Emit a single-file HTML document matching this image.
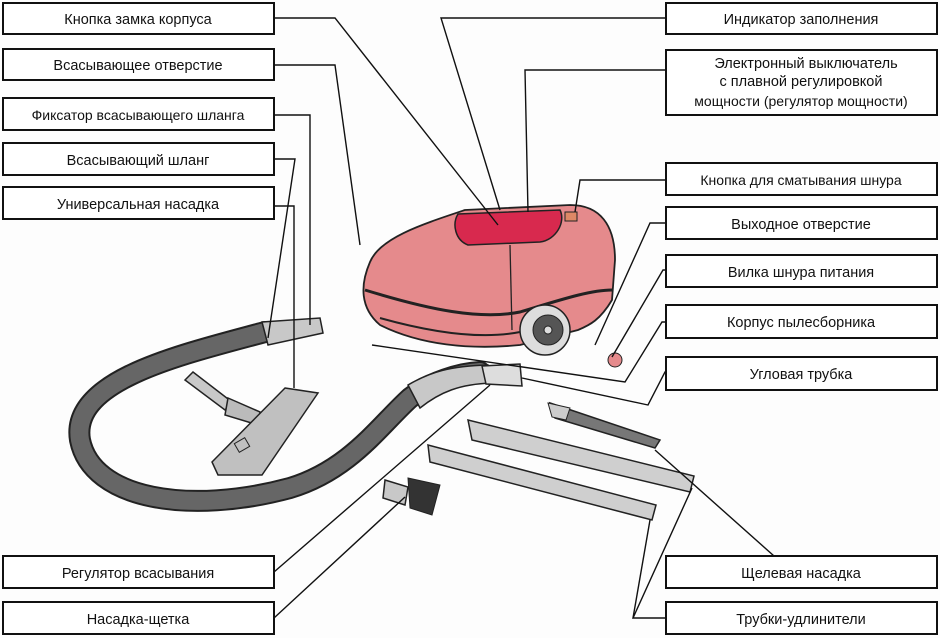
<!DOCTYPE html>
<html><head><meta charset="utf-8"><style>
body{margin:0;background:#fff;width:940px;height:638px;overflow:hidden}
svg{display:block}
text{font-family:"Liberation Sans",sans-serif;font-size:14.5px;fill:#111;text-anchor:middle}
.b{fill:#fff;stroke:#111;stroke-width:2}
.l{fill:none;stroke:#111;stroke-width:1.4}
</style></head><body>
<svg width="940" height="638" viewBox="0 0 940 638">
<rect width="940" height="638" fill="#fdfdfd"/>
<!-- hose -->
<path d="M265,332 C180,355 70,380 80,440 C92,500 190,515 290,488 C350,470 380,425 410,398 C430,382 460,373 480,372" fill="none" stroke="#222" stroke-width="22" stroke-linecap="round"/>
<path d="M265,332 C180,355 70,380 80,440 C92,500 190,515 290,488 C350,470 380,425 410,398 C430,382 460,373 480,372" fill="none" stroke="#666" stroke-width="18" stroke-linecap="round"/>
<path d="M262,322 L320,318 L323,333 L268,345 Z" fill="#c8c8c8" stroke="#222" stroke-width="1.5"/>
<path d="M408,385 C430,372 450,366 488,365 L492,383 C460,384 440,392 420,408 Z" fill="#c8c8c8" stroke="#222" stroke-width="1.5"/>
<path d="M482,366 L520,364 L522,386 L486,384 Z" fill="#ddd" stroke="#222" stroke-width="1.5"/>
<!-- floor nozzle -->
<path d="M185,380 L225,410 L232,402 L193,372 Z" fill="#c8c8c8" stroke="#222" stroke-width="1.5"/>
<path d="M228,398 L260,412 L258,425 L225,415 Z" fill="#bbb" stroke="#222" stroke-width="1.5"/>
<path d="M285,388 L318,393 L262,475 L218,475 L212,462 Z" fill="#c0c0c0" stroke="#222" stroke-width="1.5"/>
<rect x="236" y="440" width="12" height="10" fill="none" stroke="#222" transform="rotate(-30 242 445)"/>
<!-- brush -->
<path d="M385,480 L408,487 L405,505 L383,498 Z" fill="#c8c8c8" stroke="#222" stroke-width="1.5"/>
<path d="M408,478 L440,485 L432,515 L410,508 Z" fill="#333" stroke="#222"/>
<!-- tubes -->
<path d="M468,420 L472,440 L690,492 L694,476 Z" fill="#cfcfcf" stroke="#222" stroke-width="1.5"/>
<path d="M428,445 L430,462 L652,520 L656,505 Z" fill="#cfcfcf" stroke="#222" stroke-width="1.5"/>
<path d="M550,403 L555,418 L655,448 L660,440 Z" fill="#777" stroke="#222" stroke-width="1.5"/>
<path d="M548,403 L570,408 L566,420 L552,417 Z" fill="#ccc" stroke="#222"/>
<!-- vacuum body -->
<path d="M370,262 C380,238 420,225 465,210 L570,205 C600,205 615,225 615,260 L612,300 C600,320 590,325 578,330 L520,345 C470,350 420,345 380,325 C360,308 360,285 370,262 Z" fill="#e58a8c" stroke="#222" stroke-width="1.8"/>
<path d="M458,214 L560,210 C566,222 556,240 540,242 L468,245 C455,240 452,224 458,214 Z" fill="#d8294e" stroke="#222" stroke-width="1.5"/>
<rect x="565" y="212" width="12" height="9" fill="#d86" stroke="#222"/>
<path d="M365,290 C430,310 480,320 520,312 C560,300 590,290 612,290" fill="none" stroke="#222" stroke-width="3"/>
<path d="M380,318 C430,332 480,340 520,332" fill="none" stroke="#222" stroke-width="2"/>
<path d="M510,245 L512,330" fill="none" stroke="#222" stroke-width="1.3"/>
<circle cx="545" cy="330" r="25" fill="#ddd" stroke="#222" stroke-width="1.5"/>
<circle cx="548" cy="330" r="15" fill="#555" stroke="#222"/>
<circle cx="548" cy="330" r="4" fill="#ddd" stroke="#222"/>
<circle cx="615" cy="360" r="7" fill="#e58a8c" stroke="#222"/>
<!-- leader lines -->
<g class="l">
<polyline points="274,18 335,18 498,225"/>
<polyline points="274,65 335,65 360,245"/>
<polyline points="274,115 310,115 310,325"/>
<polyline points="274,159 295,159 268,338"/>
<polyline points="274,206 294,206 294,388"/>
<polyline points="666,18 441,18 500,210"/>
<polyline points="666,70 525,70 528,212"/>
<polyline points="666,180 580,180 575,212"/>
<polyline points="666,223 650,223 595,345"/>
<polyline points="666,270 663,270 612,357"/>
<polyline points="666,322 662,322 625,382 372,345"/>
<polyline points="666,372 665,372 648,405 522,378"/>
<polyline points="274,572 490,385"/>
<polyline points="274,618 405,497"/>
<polyline points="666,572 792,572 655,450"/>
<polyline points="666,618 633,618 692,488"/>
<polyline points="633,618 650,520"/>
</g>
<!-- boxes left -->
<rect class="b" x="3" y="3" width="271" height="31"/><text x="138" y="24">Кнопка замка корпуса</text>
<rect class="b" x="3" y="49" width="271" height="31"/><text x="138" y="70">Всасывающее отверстие</text>
<rect class="b" x="3" y="98" width="271" height="32"/><text x="138" y="120" style="font-size:14px">Фиксатор всасывающего шланга</text>
<rect class="b" x="3" y="143" width="271" height="32"/><text x="138" y="165">Всасывающий шланг</text>
<rect class="b" x="3" y="187" width="271" height="32"/><text x="138" y="209">Универсальная насадка</text>
<rect class="b" x="3" y="556" width="271" height="32"/><text x="138" y="578">Регулятор всасывания</text>
<rect class="b" x="3" y="602" width="271" height="32"/><text x="138" y="624">Насадка-щетка</text>
<!-- boxes right -->
<rect class="b" x="666" y="3" width="271" height="31"/><text x="801" y="24">Индикатор заполнения</text>
<rect class="b" x="666" y="50" width="271" height="65"/>
<text x="806" y="68">Электронный выключатель</text><text x="801" y="86">с плавной регулировкой</text><text x="801" y="106" style="font-size:14px">мощности (регулятор мощности)</text>
<rect class="b" x="666" y="163" width="271" height="32"/><text x="801" y="185" style="font-size:14px">Кнопка для сматывания шнура</text>
<rect class="b" x="666" y="207" width="271" height="32"/><text x="801" y="229">Выходное отверстие</text>
<rect class="b" x="666" y="255" width="271" height="32"/><text x="801" y="277">Вилка шнура питания</text>
<rect class="b" x="666" y="305" width="271" height="33"/><text x="801" y="327">Корпус пылесборника</text>
<rect class="b" x="666" y="357" width="271" height="33"/><text x="801" y="379">Угловая трубка</text>
<rect class="b" x="666" y="556" width="271" height="32"/><text x="801" y="578">Щелевая насадка</text>
<rect class="b" x="666" y="602" width="271" height="32"/><text x="801" y="624">Трубки-удлинители</text>
</svg>
</body></html>
